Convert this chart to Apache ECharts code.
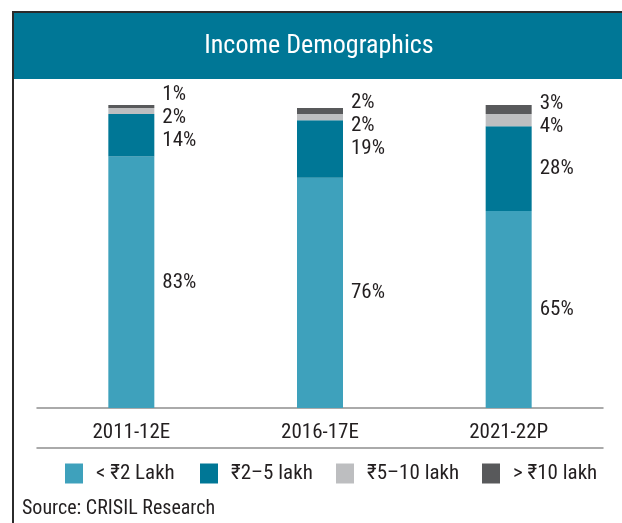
<!DOCTYPE html>
<html><head><meta charset="utf-8">
<script src="https://cdn.jsdelivr.net/npm/echarts@6/dist/echarts.min.js"></script>
<style>html,body{margin:0;padding:0;background:#fff}#c{width:622px;height:523px}</style>
</head><body><div id="c"></div>
<script>
const categories = ['2011-12E', '2016-17E', '2021-22P'];
const seriesNames = ['< ₹2 Lakh', '₹2–5 lakh', '₹5–10 lakh', '> ₹10 lakh'];
const below2Lakh = [83, 76, 65];
const lakh2to5 = [14, 19, 28];
const lakh5to10 = [2, 2, 4];
const above10Lakh = [1, 2, 3];
const titleText = 'Income Demographics';
const sourceText = 'Source: CRISIL Research';

const FONT = '"Roboto Condensed", "Liberation Sans Narrow", sans-serif';
const colors = ['#3ea1bc', '#007796', '#bdbec0', '#58595b'];
const seriesData = [below2Lakh, lakh2to5, lakh5to10, above10Lakh];
const LABEL_GAP = 23;

const chart = echarts.init(document.getElementById('c'), null, {renderer: 'canvas'});
const axisLine = {show: true, lineStyle: {color: '#8f8f8f', width: 1.5}};
const legendLefts = [65, 200, 336, 482];

function buildSeries(offsets) {
  return seriesNames.map((n, i) => ({
    name: n, type: 'bar', stack: 'total', barWidth: 46,
    data: seriesData[i].map((v, ci) => ({value: v, label: {offset: [0, offsets ? offsets[i][ci] : 0]}})),
    itemStyle: {color: colors[i]},
    emphasis: {disabled: true},
    label: {show: true, position: 'right', distance: 8, formatter: '{c}%',
      fontSize: 21, color: '#231f20', fontFamily: FONT}
  }));
}

chart.setOption({
  animation: false,
  textStyle: {fontFamily: FONT},
  grid: {left: 37, right: 19, top: 105, bottom: 115, containLabel: false},
  xAxis: [{
    type: 'category', data: categories, offset: 7,
    axisLine: axisLine, axisTick: {show: false},
    axisLabel: {fontSize: 21, margin: 7, color: '#231f20', fontFamily: FONT}
  }, {
    type: 'category', data: categories, position: 'bottom', offset: 40,
    axisLine: axisLine, axisTick: {show: false}, axisLabel: {show: false}
  }],
  yAxis: {type: 'value', min: 0, max: 100, show: false, splitLine: {show: false}},
  legend: seriesNames.map((n, i) => ({
    data: [n], left: legendLefts[i], top: 463, itemWidth: 18, itemHeight: 20,
    icon: 'rect', padding: 0, selectedMode: false,
    textStyle: {fontSize: 21, color: '#231f20', fontFamily: FONT, padding: [0, 0, 0, 8]}
  })),
  series: buildSeries(null),
  graphic: [
    {type: 'rect', shape: {x: 14, y: 13, width: 608, height: 66}, style: {fill: '#007796'}, z: 1},
    {type: 'line', shape: {x1: 13, y1: 12, x2: 13, y2: 523}, style: {stroke: '#2b2b2b', lineWidth: 2}, z: 2},
    {type: 'line', shape: {x1: 12, y1: 12, x2: 622, y2: 12}, style: {stroke: '#2b2b2b', lineWidth: 2}, z: 2},
    {type: 'text', x: 319, y: 46, style: {text: titleText, fill: '#ffffff', font: '26px ' + FONT, textAlign: 'center', textVerticalAlign: 'middle'}, z: 3},
    {type: 'text', x: 22, y: 509, style: {text: sourceText, fill: '#231f20', font: '20px ' + FONT, textAlign: 'left', textVerticalAlign: 'middle'}, z: 3}
  ]
});

// spread overlapping value labels symmetrically around their natural centres
const offsets = seriesNames.map(() => categories.map(() => 0));
categories.forEach((cat, ci) => {
  let cum = 0;
  const items = seriesData.map((arr, si) => {
    const v = arr[ci];
    const y = chart.convertToPixel({yAxisIndex: 0}, cum + v / 2);
    cum += v;
    return {si, y};
  }).sort((a, b) => a.y - b.y);
  let groups = items.map(it => ({members: [it], mean: it.y}));
  let merged = true;
  while (merged) {
    merged = false;
    for (let i = 0; i < groups.length - 1; i++) {
      const g1 = groups[i], g2 = groups[i + 1];
      const b1 = g1.mean + (g1.members.length - 1) * LABEL_GAP / 2;
      const t2 = g2.mean - (g2.members.length - 1) * LABEL_GAP / 2;
      if (t2 - b1 < LABEL_GAP) {
        const members = g1.members.concat(g2.members);
        const mean = members.reduce((s, m) => s + m.y, 0) / members.length;
        groups.splice(i, 2, {members, mean});
        merged = true;
        break;
      }
    }
  }
  groups.forEach(g => {
    const n = g.members.length;
    g.members.forEach((m, k) => {
      offsets[m.si][ci] = g.mean + (k - (n - 1) / 2) * LABEL_GAP - m.y;
    });
  });
});
chart.setOption({series: buildSeries(offsets)});
</script></body></html>
